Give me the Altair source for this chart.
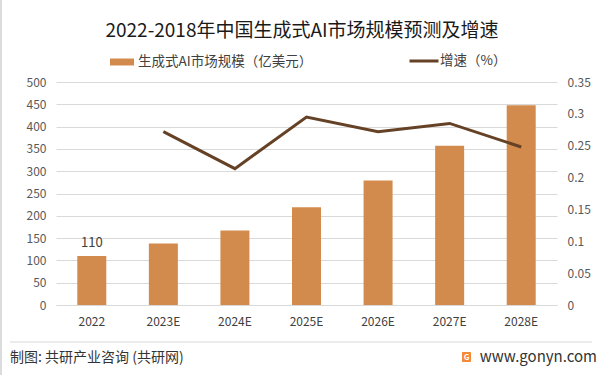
import altair as alt
import pandas as pd

years = ["2022", "2023E", "2024E", "2025E", "2026E", "2027E", "2028E"]
market = [110, 138, 167, 219, 279, 357, 448]
growth = [None, 0.272, 0.214, 0.295, 0.272, 0.285, 0.248]
bar_label = ["110", "", "", "", "", "", ""]
left_ticks = [0, 50, 100, 150, 200, 250, 300, 350, 400, 450, 500]
right_ticks = [0, 0.05, 0.1, 0.15, 0.2, 0.25, 0.3, 0.35]

s_bar = "生成式AI市场规模（亿美元）"
s_line = "增速（%）"
title_text = "2022-2018年中国生成式AI市场规模预测及增速"
footer_left = "制图: 共研产业咨询 (共研网)"
footer_right = "www.gonyn.com"

FONT = "Noto Sans CJK SC"
BAR_C = "#D38B4D"
LINE_C = "#654126"

df = pd.DataFrame({"year": years, "market": market, "growth": growth,
                   "label": bar_label, "s1": s_bar, "s2": s_line})
dline = df.dropna(subset=["growth"])

W, H = 501, 223

xaxis = alt.Axis(labelAngle=0, ticks=False, domain=True, domainColor="#D9D9D9",
                 labelPadding=11, labelFontSize=12, labelColor="#404040",
                 labelFont=FONT, grid=False)
xscale = alt.Scale(paddingInner=0, paddingOuter=0)

yaxis_left = alt.Axis(values=left_ticks, grid=True, gridColor="#D9D9D9", domain=False,
                      ticks=False, labelOverlap=False, labelPadding=10, labelFontSize=12,
                      labelColor="#595959", labelFont=FONT)
yscale_left = alt.Scale(domain=[0, 500], nice=False)

bars = alt.Chart(df).mark_bar(size=29).encode(
    x=alt.X("year:N", sort=years, title=None, scale=xscale, axis=xaxis),
    y=alt.Y("market:Q", title=None, scale=yscale_left, axis=yaxis_left),
    color=alt.Color("s1:N", title=None,
                    scale=alt.Scale(domain=[s_bar], range=[BAR_C]),
                    legend=alt.Legend(orient="none", legendX=54, legendY=-32,
                                      symbolType="M-1,-0.29L1,-0.29L1,0.29L-1,0.29Z",
                                      symbolSize=576, labelFontSize=13.5, labelColor="#404040",
                                      labelFont=FONT, labelOffset=4, labelLimit=400,
                                      symbolStrokeWidth=0)),
)

labels = alt.Chart(df).mark_text(dy=-13, fontSize=13, color="#404040", font=FONT).encode(
    x=alt.X("year:N", sort=years, title=None, scale=xscale, axis=xaxis),
    y=alt.Y("market:Q", title=None, scale=yscale_left, axis=yaxis_left),
    text="label:N",
)

left = alt.layer(bars, labels)

line = alt.Chart(dline).mark_line(strokeWidth=3).encode(
    x=alt.X("year:N", sort=years, title=None, scale=xscale, axis=xaxis),
    y=alt.Y("growth:Q", title=None,
            scale=alt.Scale(domain=[0, 0.35], nice=False),
            axis=alt.Axis(orient="right", values=right_ticks,
                          format="~g", grid=False, domain=False, ticks=False,
                          labelOverlap=False,
                          labelPadding=10, labelFontSize=12, labelColor="#595959",
                          labelFont=FONT)),
    stroke=alt.Stroke("s2:N", title=None,
                      scale=alt.Scale(domain=[s_line], range=[LINE_C]),
                      legend=alt.Legend(orient="none", legendX=352, legendY=-37,
                                        symbolType="stroke", symbolSize=841,
                                        symbolStrokeWidth=3, labelFontSize=13.5,
                                        labelColor="#404040", labelFont=FONT, labelOffset=0,
                                        labelLimit=400)),
)

one = pd.DataFrame({"t": [0]})

title = alt.Chart(one).mark_text(fontSize=19, font=FONT, color="#1A1A1A",
                                 align="center", baseline="middle").encode(
    x=alt.value(246), y=alt.value(-51), text=alt.value(title_text))

foot_rule = alt.Chart(one).mark_rule(color="#D9D9D9", strokeWidth=1).encode(
    x=alt.value(-46), x2=alt.value(536), y=alt.value(260))

border = alt.Chart(one).mark_rule(color="#D0D0D0", strokeWidth=1.5).encode(
    x=alt.value(-55), y=alt.value(-82), y2=alt.value(293))

ftl = alt.Chart(one).mark_text(fontSize=14, font=FONT, color="#333333",
                               align="left", baseline="middle").encode(
    x=alt.value(-46), y=alt.value(276), text=alt.value(footer_left))

ftr = alt.Chart(one).mark_text(fontSize=15, font=FONT, color="#333333",
                               align="right", baseline="middle").encode(
    x=alt.value(541), y=alt.value(275), text=alt.value(footer_right))

logo = alt.Chart(one).mark_rect(color="#F28A3A", cornerRadius=1).encode(
    x=alt.value(406), x2=alt.value(415), y=alt.value(270), y2=alt.value(280))

logo_g = alt.Chart(one).mark_text(fontSize=8, font=FONT, color="white", fontWeight="bold",
                                  align="center", baseline="middle").encode(
    x=alt.value(410.5), y=alt.value(275.5), text=alt.value("G"))

main = alt.layer(left, line).resolve_scale(y="independent", color="independent")

chart = alt.layer(main, title, foot_rule, border, ftl, ftr, logo, logo_g).properties(
    width=W, height=H,
    padding={"left": 56, "top": 82, "right": 45, "bottom": 70},
    autosize=alt.AutoSizeParams(type="none"),
    background="white",
).configure_view(stroke=None)

chart.save("out.html", embed_options={"renderer": "svg", "actions": False})
